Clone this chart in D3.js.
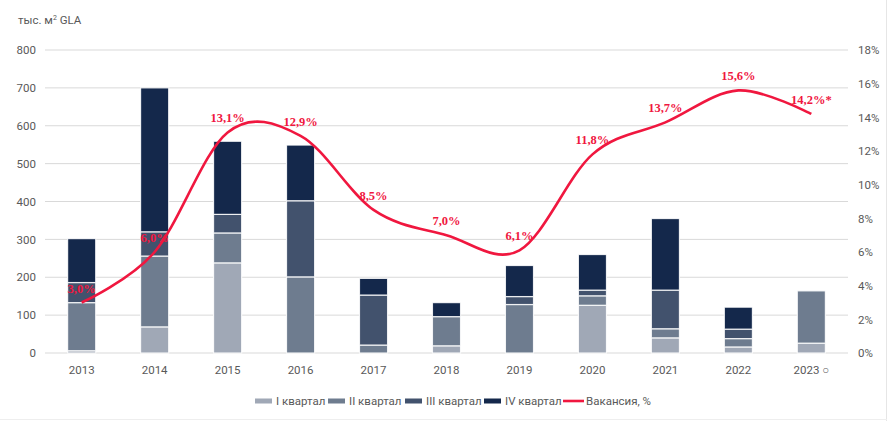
<!DOCTYPE html>
<html><head><meta charset="utf-8">
<script src="https://cdn.jsdelivr.net/npm/d3@7/dist/d3.min.js"></script>
<style>
html,body{margin:0;padding:0;background:#fff;}
text{font-family:"Liberation Sans Narrow","Roboto","Liberation Sans",Arial,sans-serif;}
</style></head>
<body><svg id="c" width="887" height="421"></svg>
<script>
const years = ["2013","2014","2015","2016","2017","2018","2019","2020","2021","2022","2023"];
const yearLabels = ["2013","2014","2015","2016","2017","2018","2019","2020","2021","2022","2023 ○"];
const q1 = [6, 69, 238, 0, 0, 19, 0, 126, 40, 16, 26];
const q2 = [127, 187, 79, 201, 21, 77, 128, 25, 24, 22, 138];
const q3 = [53, 64, 49, 201, 132, 0, 21, 15, 102, 25, 0];
const q4 = [116, 380, 193, 147, 44, 37, 82, 94, 189, 58, 0];
const vacancy = [3.0, 6.0, 13.1, 12.9, 8.5, 7.0, 6.1, 11.8, 13.7, 15.6, 14.2];
const vacancyLabels = ["3,0%","6,0%","13,1%","12,9%","8,5%","7,0%","6,1%","11,8%","13,7%","15,6%","14,2%*"];
const leftTicks = [0,100,200,300,400,500,600,700,800];
const rightTicks = [0,2,4,6,8,10,12,14,16,18];
const seriesNames = ["I квартал","II квартал","III квартал","IV квартал"];
const seriesColors = ["#a0a8b6","#6e7c8f","#42526d","#14284b"];
const lineName = "Вакансия, %";
const lineColor = "#f0173f";

const svg = d3.select("#c");
const L = 45, R = 848, T = 50, B = 353;
const x = d3.scaleBand().domain(years).range([L, R]).paddingInner(0.615).paddingOuter(0.31);
const y = d3.scaleLinear().domain([0, 800]).range([B, T]);
const y2 = d3.scaleLinear().domain([0, 18]).range([B, T]);

// grid
svg.append("g").selectAll("line").data(leftTicks).join("line")
  .attr("x1", L).attr("x2", R).attr("y1", d=>y(d)).attr("y2", d=>y(d))
  .attr("stroke", "#d9d9d9").attr("stroke-width", 1);

// left axis labels
const ax = svg.append("g").attr("transform", `translate(${L},0)`)
  .call(d3.axisLeft(y).tickValues(leftTicks).tickSize(0).tickPadding(9));
ax.select(".domain").remove();
ax.selectAll("text").attr("fill", "#595959").attr("font-size", 11.5);

const ax2 = svg.append("g").attr("transform", `translate(${R},0)`)
  .call(d3.axisRight(y2).tickValues(rightTicks).tickFormat(d=>d+"%").tickSize(0).tickPadding(10));
ax2.select(".domain").remove();
ax2.selectAll("text").attr("fill", "#595959").attr("font-size", 11.5);

const axb = svg.append("g").attr("transform", `translate(0,${B})`)
  .call(d3.axisBottom(x).tickSize(0).tickPadding(13).tickFormat((d,i)=>yearLabels[i]));
axb.select(".domain").remove();
axb.selectAll("text").attr("fill", "#595959").attr("font-size", 11.5);

// y title
svg.append("text").attr("x", 18).attr("y", 24).attr("fill", "#595959").attr("font-size", 11.5)
  .html('тыс. м<tspan baseline-shift="super" font-size="7">2</tspan> GLA');

// stacked bars
const rows = years.map((yr,i)=>({year:yr, q1:q1[i], q2:q2[i], q3:q3[i], q4:q4[i]}));
const stack = d3.stack().keys(["q1","q2","q3","q4"])(rows);
svg.append("g").selectAll("g").data(stack).join("g")
  .attr("fill", (d,i)=>seriesColors[i])
  .selectAll("rect").data(d=>d.filter(p=>p[1]-p[0]>0)).join("rect")
  .attr("x", d=>x(d.data.year)).attr("width", x.bandwidth())
  .attr("y", d=>y(d[1])).attr("height", d=>y(d[0])-y(d[1]))
  .attr("stroke", "#ffffff").attr("stroke-opacity", 0.85).attr("stroke-width", 1.2);

// vacancy line
const line = d3.line().x((d,i)=>x(years[i])+x.bandwidth()/2).y(d=>y2(d)).curve(d3.curveCardinal.tension(0));
svg.append("path").datum(vacancy).attr("d", line).attr("fill","none")
  .attr("stroke", lineColor).attr("stroke-width", 2.6);

svg.append("g").selectAll("text").data(vacancy).join("text")
  .attr("x", (d,i)=>x(years[i])+x.bandwidth()/2).attr("y", d=>y2(d)-10)
  .attr("text-anchor","middle").attr("fill", lineColor).attr("font-weight","bold")
  .attr("font-size", 12.5).style("font-family", '"Liberation Serif","DejaVu Serif",serif')
  .text((d,i)=>vacancyLabels[i]);

// legend
const lg = svg.append("g").attr("transform","translate(0,401)");
const lx = [255, 328, 405, 484];
seriesNames.forEach((n,i)=>{
  lg.append("rect").attr("x", lx[i]).attr("y", -2.5).attr("width", 17).attr("height", 5).attr("fill", seriesColors[i]);
  lg.append("text").attr("x", lx[i]+21).attr("y", 4).attr("fill","#595959").attr("font-size", 11.5).text(n);
});
lg.append("line").attr("x1", 563).attr("x2", 584).attr("y1", 0).attr("y2", 0).attr("stroke", lineColor).attr("stroke-width", 2.6);
lg.append("text").attr("x", 586).attr("y", 4).attr("fill","#595959").attr("font-size", 11.5).text(lineName);

// frame edges
svg.append("line").attr("x1", 886.5).attr("x2", 886.5).attr("y1", 0).attr("y2", 421).attr("stroke","#e6e6e6");
svg.append("line").attr("x1", 0).attr("x2", 887).attr("y1", 419.5).attr("y2", 419.5).attr("stroke","#eeeeee");
</script></body></html>
